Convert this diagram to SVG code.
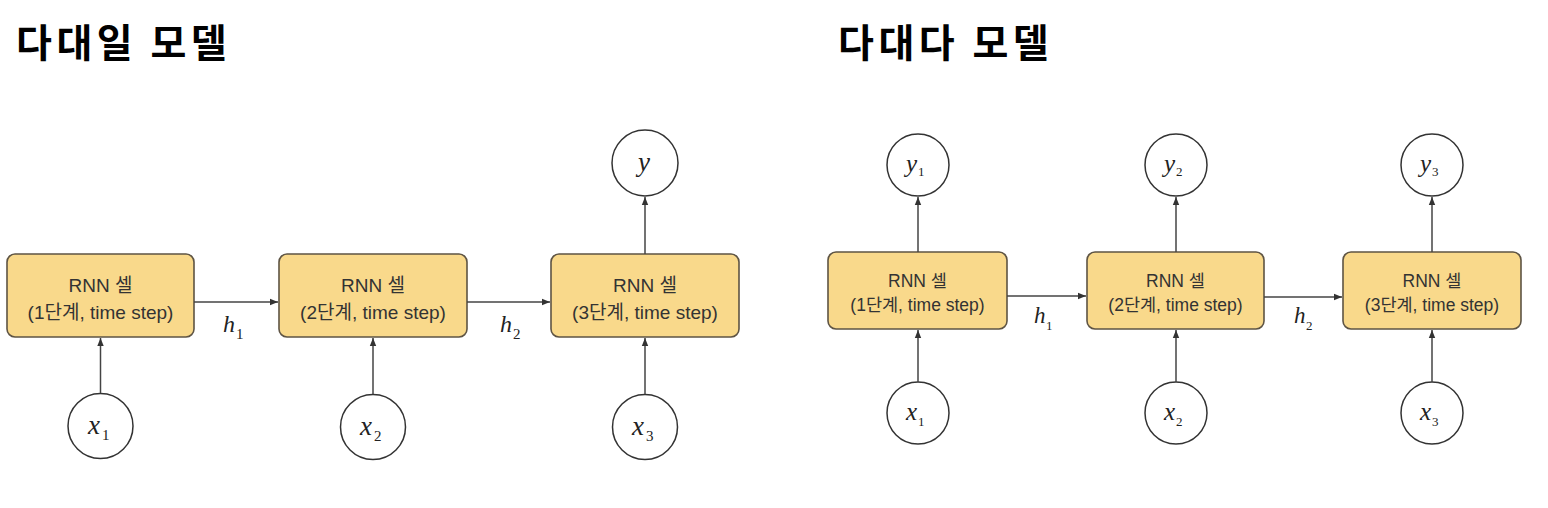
<svg xmlns="http://www.w3.org/2000/svg" width="1548" height="508" viewBox="0 0 1548 508">
<defs>
<marker id="ah" viewBox="0 0 10 10" refX="10" refY="5" markerWidth="8" markerHeight="8" markerUnits="userSpaceOnUse" orient="auto">
<path d="M0,1 L10,5 L0,9 Z" fill="#333"/>
</marker>
<style>
.title{font-family:"Noto Sans CJK KR","Noto Sans",sans-serif;font-weight:700;font-size:39px;letter-spacing:4.5px;fill:#000}
.box{fill:#F9D98B;stroke:#5e5444;stroke-width:1.6}
.bt{font-family:"Liberation Sans","Noto Sans CJK KR",sans-serif;fill:#333;text-anchor:middle}
.L .bt{font-size:19px}
.R .bt{font-size:17.5px}
.circ{fill:#fff;stroke:#333;stroke-width:1.5}
.m{font-family:"Liberation Serif","DejaVu Serif",serif;font-style:italic;fill:#222}
.sub{font-family:"Liberation Serif","DejaVu Serif",serif;font-style:normal;fill:#222}
.con line{stroke:#444;stroke-width:1.5;marker-end:url(#ah)}
</style>
</defs>
<rect width="1548" height="508" fill="#fff"/>
<text class="title" x="16" y="57">다대일 모델</text>
<text class="title" x="838" y="57">다대다 모델</text>

<g class="L">
<g id="L-cell1"><rect class="box" x="7" y="254" width="187" height="83" rx="8"/><text class="bt" x="100.5" y="292">RNN 셀</text><text class="bt" x="100.5" y="319">(1단계, time step)</text></g>
<g id="L-cell2"><rect class="box" x="279" y="254" width="188" height="83" rx="8"/><text class="bt" x="373" y="292">RNN 셀</text><text class="bt" x="373" y="319">(2단계, time step)</text></g>
<g id="L-cell3"><rect class="box" x="551" y="254" width="188" height="83" rx="8"/><text class="bt" x="645" y="292">RNN 셀</text><text class="bt" x="645" y="319">(3단계, time step)</text></g>
<g id="L-x1"><circle class="circ" cx="100.5" cy="426" r="32.5"/><text class="m" x="88" y="434" font-size="27">x</text><text class="sub" x="102" y="440" font-size="15">1</text></g>
<g id="L-x2"><circle class="circ" cx="373" cy="427" r="32.5"/><text class="m" x="360" y="435" font-size="27">x</text><text class="sub" x="374" y="441" font-size="15">2</text></g>
<g id="L-x3"><circle class="circ" cx="645" cy="427" r="32.5"/><text class="m" x="632" y="435" font-size="27">x</text><text class="sub" x="646" y="441" font-size="15">3</text></g>
<g id="L-y"><circle class="circ" cx="645" cy="163" r="33"/><text class="m" x="638" y="171" font-size="27">y</text></g>
<g id="L-h1"><text class="m" x="223" y="332" font-size="24">h</text><text class="sub" x="236" y="339" font-size="15">1</text></g>
<g id="L-h2"><text class="m" x="500" y="332" font-size="24">h</text><text class="sub" x="513" y="339" font-size="15">2</text></g>
</g>

<g class="R">
<g id="R-cell1"><rect class="box" x="828" y="252" width="179" height="77" rx="8"/><text class="bt" x="917.5" y="287">RNN 셀</text><text class="bt" x="917.5" y="311">(1단계, time step)</text></g>
<g id="R-cell2"><rect class="box" x="1087" y="252" width="177" height="77" rx="8"/><text class="bt" x="1175.5" y="287">RNN 셀</text><text class="bt" x="1175.5" y="311">(2단계, time step)</text></g>
<g id="R-cell3"><rect class="box" x="1343" y="252" width="178" height="77" rx="8"/><text class="bt" x="1432" y="287">RNN 셀</text><text class="bt" x="1432" y="311">(3단계, time step)</text></g>
<g id="R-y1"><circle class="circ" cx="918" cy="165" r="31"/><text class="m" x="906" y="172" font-size="25">y</text><text class="sub" x="918" y="176" font-size="13">1</text></g>
<g id="R-y2"><circle class="circ" cx="1176" cy="165" r="31"/><text class="m" x="1164" y="172" font-size="25">y</text><text class="sub" x="1176" y="176" font-size="13">2</text></g>
<g id="R-y3"><circle class="circ" cx="1432" cy="165" r="31"/><text class="m" x="1420" y="172" font-size="25">y</text><text class="sub" x="1432" y="176" font-size="13">3</text></g>
<g id="R-x1"><circle class="circ" cx="918" cy="413" r="31"/><text class="m" x="906" y="420" font-size="25">x</text><text class="sub" x="918" y="426" font-size="13">1</text></g>
<g id="R-x2"><circle class="circ" cx="1176" cy="413" r="31"/><text class="m" x="1164" y="420" font-size="25">x</text><text class="sub" x="1176" y="426" font-size="13">2</text></g>
<g id="R-x3"><circle class="circ" cx="1432" cy="413" r="31"/><text class="m" x="1420" y="420" font-size="25">x</text><text class="sub" x="1432" y="426" font-size="13">3</text></g>
<g id="R-h1"><text class="m" x="1034" y="323" font-size="23">h</text><text class="sub" x="1046" y="330" font-size="13">1</text></g>
<g id="R-h2"><text class="m" x="1294" y="323" font-size="23">h</text><text class="sub" x="1306" y="330" font-size="13">2</text></g>
</g>

<g id="connectors" class="con">
<line x1="194" y1="302" x2="278" y2="302"/>
<line x1="467" y1="302" x2="550" y2="302"/>
<line x1="100.5" y1="393" x2="100.5" y2="338"/>
<line x1="373" y1="394" x2="373" y2="338"/>
<line x1="645" y1="394" x2="645" y2="338"/>
<line x1="645" y1="254" x2="645" y2="197"/>
<line x1="1007" y1="296" x2="1086" y2="296"/>
<line x1="1264" y1="297" x2="1342" y2="297"/>
<line x1="918" y1="382" x2="918" y2="330"/>
<line x1="1176" y1="382" x2="1176" y2="330"/>
<line x1="1432" y1="382" x2="1432" y2="330"/>
<line x1="918" y1="252" x2="918" y2="197"/>
<line x1="1176" y1="252" x2="1176" y2="197"/>
<line x1="1432" y1="252" x2="1432" y2="197"/>
</g>
</svg>
